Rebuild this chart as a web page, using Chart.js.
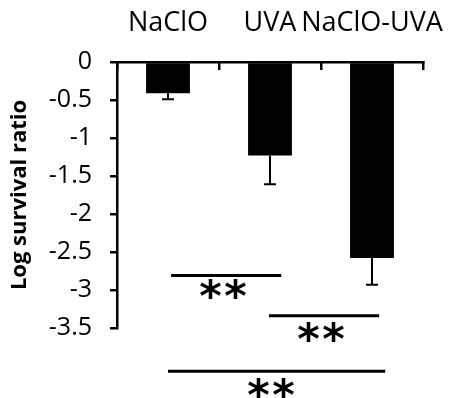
<!DOCTYPE html>
<html>
<head>
<meta charset="utf-8">
<script src="https://cdn.jsdelivr.net/npm/chart.js@4"></script>
<style>
  html, body { margin: 0; padding: 0; background: #fff; }
  #wrap { width: 452px; height: 398px; }
</style>
</head>
<body>
<div id="wrap"><canvas id="chart"></canvas></div>
<script>
const categories = ['NaClO', 'UVA', 'NaClO-UVA'];
const survival = [-0.41, -1.23, -2.58];
const survivalErr = [0.08, 0.38, 0.35];
const yTicks = [0, -0.5, -1, -1.5, -2, -2.5, -3, -3.5];
const yTickLabels = ['0', '-0.5', '-1', '-1.5', '-2', '-2.5', '-3', '-3.5'];

// significance brackets (category index units, y in axis units)
const bracketFrom = [0.03, 0.99, 0.0];
const bracketTo = [1.11, 2.07, 2.13];
const bracketY = [-2.81, -3.34, -4.07];
const starX = [0.54, 1.5, 1.01];
const starY = [-2.99, -3.55, -4.29];
const starText = ['**', '**', '**'];

const errorBars = {
    id: 'errorBars',
    afterDatasetsDraw(chart) {
        const ctx = chart.ctx;
        const y = chart.scales.y;
        const meta = chart.getDatasetMeta(0);
        ctx.save();
        ctx.strokeStyle = '#000';
        ctx.lineWidth = 2;
        meta.data.forEach((bar, i) => {
            const y0 = y.getPixelForValue(survival[i]);
            const y1 = y.getPixelForValue(survival[i] - survivalErr[i]);
            ctx.beginPath();
            ctx.moveTo(bar.x, y0);
            ctx.lineTo(bar.x, y1);
            ctx.moveTo(bar.x - 6, y1);
            ctx.lineTo(bar.x + 6, y1);
            ctx.stroke();
        });
        ctx.restore();
    }
};

const brackets = {
    id: 'brackets',
    afterDraw(chart) {
        const ctx = chart.ctx;
        const x = chart.scales.x;
        const y = chart.scales.y;
        ctx.save();
        ctx.strokeStyle = '#000';
        ctx.fillStyle = '#000';
        ctx.lineWidth = 3;
        bracketY.forEach((v, i) => {
            const py = y.getPixelForValue(v);
            ctx.beginPath();
            ctx.moveTo(x.getPixelForValue(bracketFrom[i]), py);
            ctx.lineTo(x.getPixelForValue(bracketTo[i]), py);
            ctx.stroke();
        });
        ctx.font = 'bold 43px "DejaVu Sans"';
        ctx.textAlign = 'center';
        ctx.textBaseline = 'alphabetic';
        const m = ctx.measureText('*');
        const shift = (m.actualBoundingBoxAscent - m.actualBoundingBoxDescent) / 2;
        const gap = 25;
        starY.forEach((v, i) => {
            const chars = starText[i].split('');
            const cx = x.getPixelForValue(starX[i]);
            const cy = y.getPixelForValue(v) + shift;
            chars.forEach((c, k) => {
                ctx.fillText(c, cx + (k - (chars.length - 1) / 2) * gap, cy);
            });
        });
        ctx.restore();
    }
};

new Chart(document.getElementById('chart'), {
    type: 'bar',
    data: {
        labels: categories,
        datasets: [{
            data: survival,
            backgroundColor: '#000',
            borderWidth: 0,
            barPercentage: 0.43,
            categoryPercentage: 1
        }]
    },
    options: {
        responsive: true,
        maintainAspectRatio: false,
        animation: false,
        layout: { padding: { left: 0, right: 29, top: 0, bottom: 70 } },
        plugins: { legend: { display: false }, tooltip: { enabled: false } },
        scales: {
            x: {
                position: 'top',
                afterFit: (s) => { s.height = 62; s.paddingLeft = 0; s.paddingRight = 0; },
                border: { display: true, color: '#000', width: 2.5 },
                grid: { drawOnChartArea: false, drawTicks: true, tickLength: -8, color: '#000', lineWidth: 2.5, offset: true },
                ticks: {
                    color: '#000',
                    padding: 30,
                    maxRotation: 0,
                    minRotation: 0,
                    autoSkip: false,
                    font: { family: '"Open Sans"', size: 27 }
                }
            },
            y: {
                min: -3.5,
                max: 0,
                afterFit: (s) => { s.width = 117; s.paddingTop = 0; s.paddingBottom = 0; },
                afterBuildTicks: (s) => { s.ticks = yTicks.map(v => ({ value: v })); },
                border: { display: true, color: '#000', width: 2.5 },
                grid: { drawOnChartArea: false, drawTicks: true, tickLength: 7, color: '#000', lineWidth: 2.5 },
                ticks: {
                    color: '#000',
                    padding: 18,
                    font: { family: '"Open Sans"', size: 25 },
                    callback: (v) => yTickLabels[yTicks.indexOf(v)]
                },
                title: {
                    display: true,
                    text: 'Log survival ratio',
                    color: '#000',
                    padding: { top: 7, bottom: 10 },
                    font: { family: '"Open Sans"', size: 22, weight: 'bold' }
                }
            }
        }
    },
    plugins: [errorBars, brackets]
});
</script>
</body>
</html>
